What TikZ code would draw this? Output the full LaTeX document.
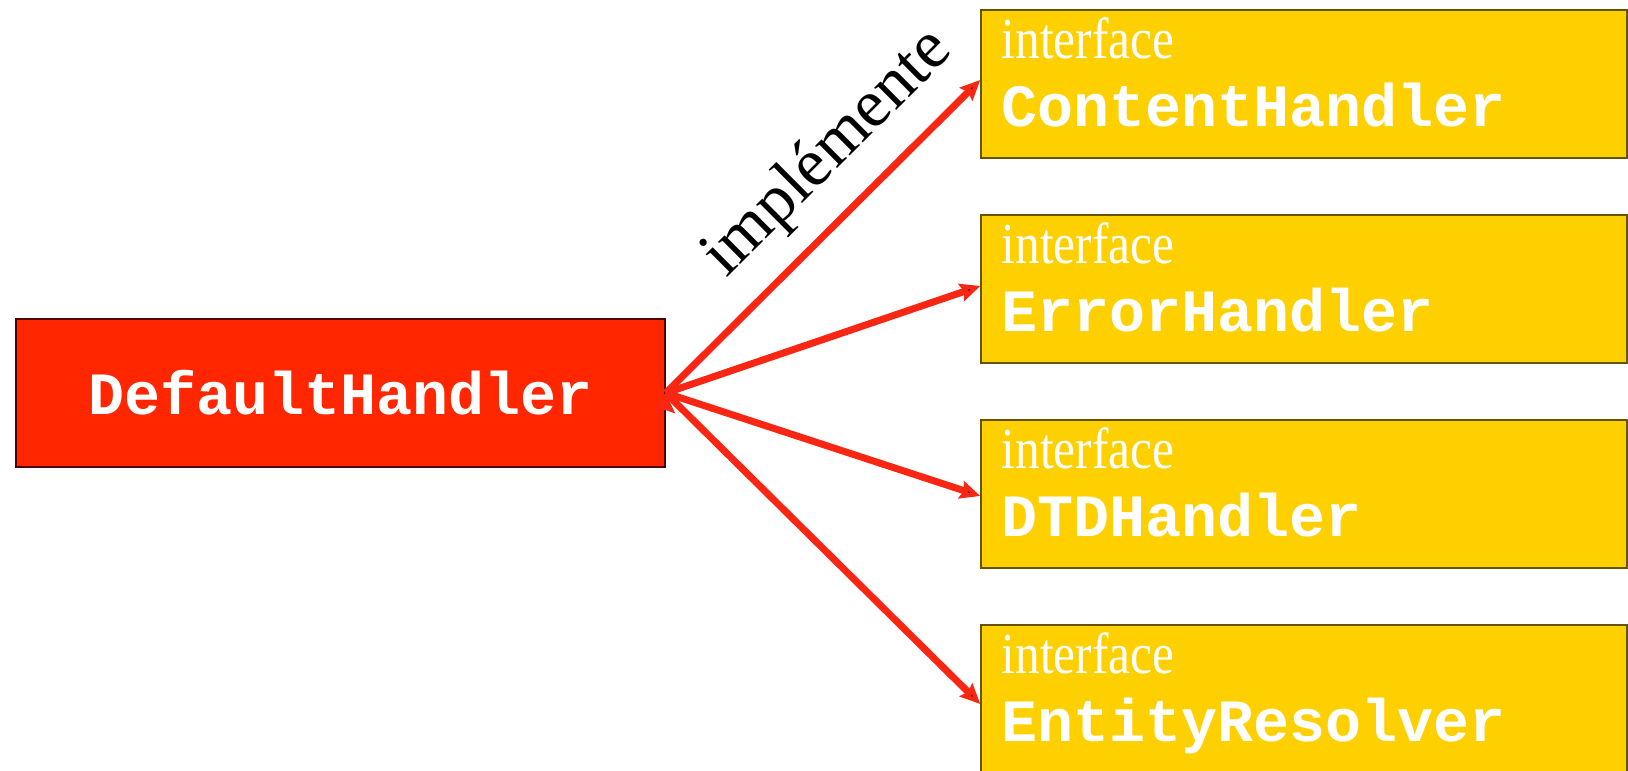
\documentclass[tikz,border=0pt]{standalone}
\usepackage{fontspec}
\setmainfont{Liberation Serif}
\setmonofont{Liberation Mono}
\usetikzlibrary{arrows.meta}
\usetikzlibrary{positioning}

\definecolor{handlerred}{RGB}{255,38,0}
\definecolor{ifaceyellow}{RGB}{255,208,0}
\definecolor{arrowred}{RGB}{250,38,20}

\begin{document}
\begin{tikzpicture}[x=1pt,y=-1pt,
  -{Stealth[length=20pt,width=18pt,inset=3pt]},line width=7pt,
  class node/.style={rectangle,fill=handlerred,draw=black!70!red,line width=1.5pt,
  font=\fontsize{60}{60}\ttfamily\bfseries,text=white,minimum width=649pt,minimum height=148pt},
  iface node/.style={rectangle,fill=ifaceyellow,draw=black!60!ifaceyellow,line width=1.5pt,
  minimum width=646pt,minimum height=148pt},
  tag text/.style={anchor=base west,inner sep=0pt,text=white,font=\fontsize{58}{58}\selectfont},
  name text/.style={anchor=base west,inner sep=0pt,text=white,font=\fontsize{60}{60}\ttfamily\bfseries}]

  \useasboundingbox (0,0) rectangle (1628,771);
  \clip (0,0) rectangle (1628,771);

  \node[class node] (DH) at (340.5,393) {DefaultHandler};

  % interfaces on the right
  \foreach \id/\y/\cls in {CH/84/ContentHandler,EH/289/ErrorHandler,
                           DTD/494/DTDHandler,ER/699/EntityResolver}{
    \node[iface node] (\id) at (1304,\y) {};
    \node[tag text] (\id tag) at ([shift={(18pt,-49pt)}]\id.north west)
      {\scalebox{.85}[1]{interface}};
    \node[name text] (\id name) at ([shift={(18pt,-117pt)}]\id.north west) {\cls};
  }

  \path[draw=arrowred,every node/.style={font=\fontsize{68}{68}\selectfont,text=black,inner sep=0pt}]
    %implemente label on the first arrow
    (DH.east) edge node[sloped,pos=.64,above=20pt] {implémente} ([yshift=4pt]CH.west)
    (DH.east) edge ([yshift=3pt]EH.west)
    (DH.east) edge ([yshift=-2pt]DTD.west)
    (DH.east) edge ([yshift=-5pt]ER.west);

\end{tikzpicture}
\end{document}
